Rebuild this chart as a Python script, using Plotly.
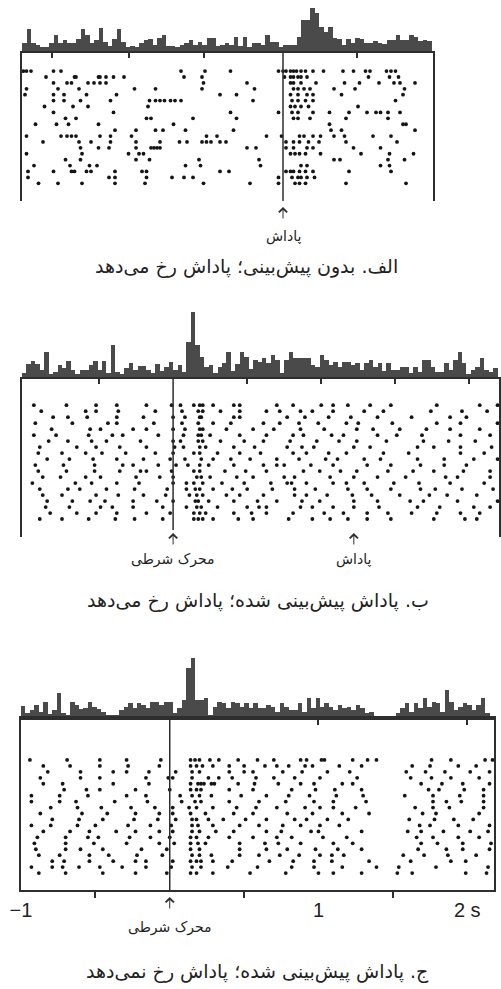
import plotly.graph_objects as go

W, H = 501, 989
FONT = "DejaVu Sans"
INK = "#2e2e2e"
BAR = "#4a4a4a"
DOT = "#151515"

# ------------------------------------------
# Data (times in s, histogram heights in spikes per bin)
# ------------------------------------------

BIN_WIDTH = 0.03

# A: no prediction, aligned on reward
A_RANGE = [-1.74, 1.0]
A_REWARD = 0.0
A_TOP_TICKS = [-1.54, -1.03, -0.53, 0.49]
A_HIST_START = -1.74
A_HIST = [
    8, 22, 8, 6, 4, 4, 8, 16, 8, 11,
    8, 8, 12, 22, 16, 8, 11, 23, 9, 5,
    12, 22, 9, 4, 5, 4, 8, 11, 12, 6,
    13, 16, 5, 5, 4, 6, 8, 11, 6, 9,
    6, 13, 13, 5, 6, 8, 6, 14, 5, 14,
    4, 8, 8, 6, 16, 9, 9, 4, 6, 6,
    6, 14, 31, 31, 43, 38, 24, 19, 24, 13,
    12, 6, 12, 8, 13, 12, 8, 8, 10, 8,
    7, 11, 11, 16, 11, 11, 16, 14, 10, 11,
    10,
]
A_TRIALS = [
    [-1.73, -1.71, -1.68, -1.53, -1.48, -0.68, -0.52, -0.35, -0.03, 0.00, 0.02, 0.05, 0.07, 0.09, 0.12, 0.15, 0.20, 0.27, 0.40, 0.47, 0.55, 0.58, 0.69, 0.72, 0.75],
    [-1.58, -1.39, -1.38, -1.23, -1.22, -1.18, -1.13, -1.06, -0.66, -0.54, 0.01, 0.05, 0.07, 0.10, 0.12, 0.16, 0.57, 0.71, 0.77],
    [-1.53, -1.44, -1.41, -1.30, -1.26, -1.22, -1.18, -0.53, -0.24, 0.05, 0.07, 0.12, 0.22, 0.41, 0.51, 0.64, 0.74, 0.78, 0.88],
    [-1.71, -1.50, -1.36, -0.99, -0.85, -0.54, -0.19, 0.07, 0.10, 0.14, 0.18, 0.34, 0.48, 0.81],
    [-1.72, -1.53, -1.46, -1.31, -1.11, -0.42, -0.31, 0.05, 0.10, 0.16, 0.20, 0.39, 0.80],
    [-1.53, -1.46, -1.35, -1.15, -0.89, -0.85, -0.82, -0.79, -0.75, -0.72, -0.68, -0.20, 0.06, 0.10, 0.15, 0.20, 0.75],
    [-1.59, -1.40, -1.30, -0.90, 0.05, 0.08, 0.12, 0.17, 0.50],
    [-1.53, -1.13, -0.35, -0.03, 0.06, 0.10, 0.20, 0.31, 0.44, 0.56, 0.62, 0.65, 0.70, 0.78],
    [-1.45, -1.38, -0.91, -0.88, -0.60, -0.31, 0.07, 0.10, 0.18, 0.42, 0.70],
    [-1.65, -1.51, -1.43, -1.23, -0.73, 0.31, 0.80, 0.82],
    [-1.12, -0.98, -0.85, -0.80, -0.65, -0.33, 0.32, 0.39, 0.88],
    [-1.71, -1.48, -1.44, -1.41, -1.38, -1.22, -1.15, -1.01, -0.51, -0.44, -0.11, -0.01, 0.11, 0.14, 0.20, 0.25, 0.34, 0.41, 0.60, 0.72],
    [-1.60, -1.36, -1.28, -1.15, -0.98, -0.82, -0.69, -0.64, -0.54, -0.51, -0.48, -0.42, -0.38, 0.02, 0.07, 0.11, 0.17, 0.24, 0.42, 0.76],
    [-1.35, -1.23, -1.16, -0.98, -0.88, -0.86, -0.84, -0.82, -0.24, -0.18, 0.02, 0.07, 0.16, 0.20, 0.47, 0.65],
    [-1.71, -1.34, -1.03, -0.96, -0.93, 0.05, 0.08, 0.11, 0.15, 0.25, 0.52, 0.71, 0.87],
    [-1.45, -1.35, -0.98, -0.89, -0.56, -0.16, 0.34, 0.38, 0.70, 0.81],
    [-1.66, -1.42, -1.29, -1.24, -0.65, -0.55, -0.15, 0.12, 0.16, 0.65, 0.71],
    [-1.70, -1.53, -1.41, -1.39, -1.31, -1.28, -1.12, -0.94, -0.91, -0.42, -0.36, 0.02, 0.05, 0.07, 0.11, 0.15, 0.20, 0.44, 0.72],
    [-1.70, -1.16, -1.12, -0.91, -0.74, -0.66, -0.60, -0.03, 0.06, 0.10, 0.12, 0.16, 0.21],
    [-1.63, -1.50, -1.34, -1.12, -0.92, -0.53, -0.22, -0.03, 0.08, 0.11, 0.15, 0.42, 0.82],
]

# B: reward predicted and delivered, aligned on conditioned stimulus
B_RANGE = [-1.02, 2.2]
B_CS = 0.0
B_REWARD = 1.22
B_TOP_TICKS = [-0.5, 0.5, 1.0, 1.5, 2.0]
B_HIST_START = -1.02
B_HIST = [
    4, 13, 16, 13, 7, 25, 3, 5, 12, 9,
    16, 7, 3, 7, 7, 12, 16, 7, 16, 4,
    32, 5, 3, 9, 14, 7, 11, 11, 7, 4,
    13, 6, 10, 15, 7, 12, 5, 35, 65, 32,
    20, 10, 12, 4, 10, 14, 25, 6, 13, 25,
    20, 8, 17, 15, 19, 14, 22, 17, 4, 17,
    25, 19, 19, 19, 19, 12, 10, 22, 17, 12,
    15, 10, 15, 15, 12, 14, 7, 14, 17, 10,
    14, 6, 14, 7, 7, 10, 10, 4, 10, 5,
    17, 17, 10, 5, 5, 14, 7, 17, 25, 14,
    3, 7, 10, 19, 7, 5, 9,
]
B_TRIALS = [
    [-0.94, -0.72, -0.52, -0.38, -0.18, -0.01, 0.05, 0.14, 0.18, 0.20, 0.27, 0.41, 0.45, 0.70, 0.81, 1.00, 1.08, 1.18, 1.33, 1.47, 1.78, 2.07, 2.19],
    [-0.89, -0.59, -0.52, -0.37, -0.12, 0.06, 0.17, 0.20, 0.32, 0.45, 0.63, 0.72, 0.86, 0.94, 1.08, 1.29, 1.42, 1.74, 1.95, 2.12],
    [-0.81, -0.71, -0.58, -0.38, -0.20, 0.00, 0.08, 0.18, 0.19, 0.41, 0.45, 0.77, 0.89, 1.05, 1.20, 1.38, 1.61, 1.87, 1.98],
    [-0.93, -0.68, -0.44, -0.38, -0.13, 0.06, 0.17, 0.27, 0.39, 0.61, 0.72, 0.85, 0.98, 1.17, 1.25, 1.48, 1.78, 1.94, 2.19],
    [-0.82, -0.56, -0.49, -0.27, -0.18, 0.00, 0.08, 0.18, 0.20, 0.36, 0.54, 0.68, 0.86, 1.02, 1.24, 1.35, 1.53, 1.71, 1.87, 2.07],
    [-0.94, -0.79, -0.57, -0.41, -0.34, -0.10, 0.07, 0.17, 0.19, 0.25, 0.45, 0.63, 0.81, 0.88, 1.07, 1.15, 1.38, 1.51, 1.68, 1.94, 2.14],
    [-0.84, -0.71, -0.55, -0.45, -0.22, 0.00, 0.05, 0.17, 0.20, 0.32, 0.48, 0.61, 0.79, 0.97, 1.12, 1.24, 1.44, 1.69, 1.86, 2.04],
    [-0.90, -0.65, -0.52, -0.36, -0.18, 0.01, 0.07, 0.18, 0.22, 0.41, 0.55, 0.77, 0.87, 0.95, 1.22, 1.33, 1.65, 1.76, 1.94, 2.15],
    [-0.91, -0.75, -0.59, -0.48, -0.32, -0.12, 0.00, 0.14, 0.18, 0.30, 0.45, 0.59, 0.81, 0.90, 1.05, 1.17, 1.42, 1.59, 1.94, 2.10],
    [-0.85, -0.70, -0.54, -0.38, -0.20, -0.02, 0.08, 0.19, 0.27, 0.39, 0.52, 0.70, 0.85, 1.03, 1.11, 1.29, 1.40, 1.65, 1.83, 2.03, 2.19],
    [-0.93, -0.74, -0.53, -0.34, -0.27, -0.10, 0.02, 0.10, 0.18, 0.24, 0.41, 0.61, 0.70, 0.75, 0.93, 1.08, 1.31, 1.47, 1.67, 1.83, 1.98],
    [-0.91, -0.72, -0.53, -0.36, -0.22, -0.18, -0.01, 0.14, 0.18, 0.35, 0.49, 0.63, 0.88, 0.99, 1.13, 1.24, 1.45, 1.62, 1.76, 1.96, 2.14],
    [-0.88, -0.76, -0.59, -0.49, -0.25, -0.09, 0.00, 0.16, 0.19, 0.25, 0.43, 0.54, 0.75, 0.82, 1.06, 1.22, 1.38, 1.57, 1.84, 1.92, 2.14],
    [-0.95, -0.66, -0.55, -0.38, -0.23, 0.00, 0.09, 0.14, 0.20, 0.33, 0.48, 0.66, 0.77, 0.80, 0.90, 1.08, 1.17, 1.29, 1.49, 1.66, 1.87, 2.10],
    [-0.90, -0.71, -0.63, -0.45, -0.26, -0.04, 0.09, 0.15, 0.18, 0.27, 0.40, 0.50, 0.67, 0.82, 0.96, 1.18, 1.31, 1.47, 1.67, 1.77, 1.95, 2.16],
    [-0.88, -0.75, -0.52, -0.37, -0.20, -0.05, 0.11, 0.16, 0.20, 0.36, 0.45, 0.61, 0.82, 0.90, 1.04, 1.21, 1.34, 1.53, 1.73, 1.85, 2.05],
    [-0.85, -0.68, -0.56, -0.46, -0.27, -0.11, 0.00, 0.15, 0.17, 0.24, 0.41, 0.57, 0.70, 0.87, 0.99, 1.22, 1.38, 1.60, 1.69, 1.92, 2.19],
    [-0.86, -0.70, -0.49, -0.41, -0.27, -0.07, 0.09, 0.16, 0.19, 0.30, 0.50, 0.58, 0.63, 0.86, 0.94, 1.08, 1.22, 1.39, 1.65, 1.80, 2.03, 2.14],
    [-0.83, -0.65, -0.52, -0.38, -0.18, -0.02, 0.14, 0.18, 0.22, 0.41, 0.53, 0.63, 0.81, 1.02, 1.15, 1.31, 1.45, 1.61, 1.78, 1.94, 2.07],
    [-0.90, -0.75, -0.57, -0.39, -0.26, -0.07, 0.14, 0.17, 0.20, 0.27, 0.44, 0.54, 0.78, 0.94, 1.06, 1.18, 1.31, 1.47, 1.76, 1.97, 2.05],
]

# C: reward predicted but omitted, aligned on conditioned stimulus
C_RANGE = [-1.0, 2.18]
C_CS = 0.0
C_TOP_TICKS = [1.0, 2.0]
C_BOTTOM_TICKS = [-0.5, 0.5, 1.5]
C_LABEL_VALS = [-1, 1, 2]
C_LABEL_TEXT = ["\u22121", "1", "2 s"]
C_HIST_START = -1.0
C_HIST = [
    12, 5, 8, 13, 6, 16, 4, 8, 25, 5,
    3, 16, 13, 9, 10, 16, 11, 9, 6, 3,
    3, 3, 8, 11, 15, 10, 15, 13, 10, 16,
    16, 13, 16, 16, 5, 10, 18, 50, 60, 18,
    18, 20, 3, 11, 16, 15, 10, 16, 15, 11,
    15, 10, 15, 10, 10, 13, 11, 6, 15, 11,
    8, 8, 15, 6, 20, 10, 20, 11, 15, 11,
    8, 13, 10, 11, 8, 13, 10, 5, 6, 0,
    0, 0, 0, 0, 5, 10, 15, 6, 15, 10,
    20, 11, 16, 15, 6, 28, 16, 8, 11, 15,
    13, 8, 13, 20, 5,
]
C_TRIALS = [
    [-0.94, -0.69, -0.47, -0.29, -0.06, 0.14, 0.17, 0.20, 0.27, 0.33, 0.46, 0.59, 0.70, 0.88, 0.92, 1.02, 1.04, 1.23, 1.33, 1.39, 1.76, 1.89, 2.12, 2.17],
    [-0.85, -0.67, -0.47, -0.28, -0.07, 0.14, 0.18, 0.22, 0.29, 0.40, 0.50, 0.64, 0.72, 0.80, 0.91, 0.96, 1.14, 1.29, 1.63, 1.75, 1.94, 2.06],
    [-0.82, -0.60, -0.38, -0.29, -0.14, 0.04, 0.15, 0.20, 0.40, 0.50, 0.56, 0.76, 0.89, 1.06, 1.21, 1.59, 1.72, 1.85, 2.02, 2.15],
    [-0.87, -0.60, -0.47, -0.16, -0.01, 0.02, 0.15, 0.26, 0.33, 0.42, 0.58, 0.70, 0.84, 1.01, 1.26, 1.62, 1.76, 1.89, 2.08],
    [-0.85, -0.72, -0.38, -0.14, 0.14, 0.19, 0.21, 0.23, 0.28, 0.30, 0.46, 0.57, 0.73, 0.88, 0.97, 1.16, 1.23, 1.69, 1.83, 1.97, 2.15],
    [-0.71, -0.56, -0.47, -0.23, 0.00, 0.14, 0.18, 0.21, 0.40, 0.56, 0.82, 0.98, 1.11, 1.29, 1.74, 1.81, 1.98, 2.11],
    [-0.93, -0.74, -0.55, -0.29, -0.16, 0.07, 0.15, 0.20, 0.28, 0.48, 0.65, 0.80, 0.94, 1.12, 1.30, 1.58, 1.77, 1.95, 2.11],
    [-0.93, -0.74, -0.63, -0.37, -0.15, 0.08, 0.17, 0.21, 0.40, 0.60, 0.78, 0.97, 1.10, 1.32, 1.77, 1.86, 1.96, 2.11],
    [-0.80, -0.62, -0.46, -0.26, -0.10, 0.02, 0.13, 0.18, 0.29, 0.45, 0.58, 0.72, 0.91, 1.01, 1.10, 1.25, 1.65, 1.77, 1.88, 2.11],
    [-0.87, -0.59, -0.42, -0.23, -0.07, 0.02, 0.14, 0.24, 0.43, 0.56, 0.79, 0.96, 1.16, 1.34, 1.70, 1.79, 2.08],
    [-0.79, -0.61, -0.45, -0.24, -0.08, 0.04, 0.15, 0.18, 0.26, 0.36, 0.51, 0.65, 0.84, 0.92, 1.06, 1.20, 1.61, 1.78, 1.91, 2.04],
    [-0.93, -0.80, -0.62, -0.50, -0.28, -0.13, 0.01, 0.15, 0.19, 0.29, 0.47, 0.60, 0.76, 0.88, 1.01, 1.14, 1.68, 1.75, 1.94, 2.15],
    [-0.85, -0.67, -0.54, -0.36, -0.23, -0.07, 0.02, 0.15, 0.20, 0.31, 0.43, 0.65, 0.75, 0.95, 1.00, 1.29, 1.60, 1.69, 1.84, 2.02, 2.14],
    [-0.89, -0.70, -0.55, -0.48, -0.27, -0.13, 0.00, 0.14, 0.18, 0.26, 0.40, 0.56, 0.72, 0.82, 1.03, 1.19, 1.66, 1.77, 1.94, 2.08],
    [-0.91, -0.70, -0.51, -0.29, -0.07, 0.03, 0.14, 0.19, 0.24, 0.47, 0.64, 0.73, 0.88, 1.10, 1.23, 1.69, 1.80, 1.97, 2.16],
    [-0.90, -0.70, -0.60, -0.45, -0.19, -0.02, 0.14, 0.20, 0.47, 0.65, 0.79, 0.98, 1.13, 1.29, 1.67, 1.86, 1.97, 2.15],
    [-0.88, -0.74, -0.54, -0.41, -0.22, -0.05, 0.15, 0.20, 0.28, 0.47, 0.60, 0.74, 0.87, 1.01, 1.09, 1.17, 1.57, 1.71, 1.87, 2.06],
    [-0.79, -0.71, -0.54, -0.38, -0.23, -0.16, 0.02, 0.14, 0.18, 0.21, 0.29, 0.42, 0.67, 0.83, 0.97, 1.09, 1.34, 1.62, 1.89, 1.99],
    [-0.93, -0.79, -0.72, -0.61, -0.47, -0.32, -0.16, 0.01, 0.15, 0.21, 0.39, 0.59, 0.82, 0.97, 1.16, 1.39, 1.54, 1.79, 2.14],
    [-0.88, -0.70, -0.45, -0.23, -0.02, 0.14, 0.18, 0.29, 0.54, 0.78, 1.00, 1.10, 1.29, 1.53, 1.63, 1.99, 2.13],
]

CAPTION_A = "الف. بدون پیش\u200cبینی؛ پاداش رخ می\u200cدهد"
CAPTION_B = "ب. پاداش پیش\u200cبینی شده؛ پاداش رخ می\u200cدهد"
CAPTION_C = "ج. پاداش پیش\u200cبینی شده؛ پاداش رخ نمی\u200cدهد"
REWARD_LABEL = "پاداش"
CS_LABEL = "محرک شرطی"


# ------------------------------------------
# Helpers
# ------------------------------------------

def py(p):
    # pixel row on the page -> paper y
    return 1 - p / H


def sfx(k):
    return "" if k == 1 else str(k)


fig = go.Figure()


def add_panel(k, x_range, x_px, hist_px, raster_px, row_range,
              hist_start, hist, trials, top_ticks, closed=False):
    h, r = 2 * k - 1, 2 * k
    x_dom = [x_px[0] / W, x_px[1] / W]

    centers = [hist_start + BIN_WIDTH * (i + 0.5) for i in range(len(hist))]
    fig.add_trace(go.Bar(
        x=centers, y=hist, width=BIN_WIDTH,
        marker=dict(color=BAR, line=dict(width=0)),
        xaxis="x" + sfx(h), yaxis="y" + sfx(h),
        showlegend=False, hoverinfo="skip"
    ))

    xs, ys = [], []
    for row, spikes in enumerate(trials, start=1):
        xs += spikes
        ys += [row] * len(spikes)
    fig.add_trace(go.Scatter(
        x=xs, y=ys, mode="markers",
        marker=dict(size=3.8, color=DOT, line=dict(width=0)),
        xaxis="x" + sfx(r), yaxis="y" + sfx(r),
        showlegend=False, hoverinfo="skip"
    ))

    fig.layout["xaxis" + sfx(h)] = dict(
        domain=x_dom, range=x_range, anchor="y" + sfx(h),
        showline=True, linecolor=INK, linewidth=1.5,
        ticks="outside", tickvals=top_ticks, ticklen=5,
        tickcolor=INK, tickwidth=1.5, showticklabels=False,
        showgrid=False, zeroline=False
    )
    fig.layout["yaxis" + sfx(h)] = dict(
        domain=[py(hist_px[0]), py(hist_px[1])],
        range=[0, hist_px[0] - hist_px[1]],
        anchor="x" + sfx(h), visible=False
    )
    fig.layout["xaxis" + sfx(r)] = dict(
        domain=x_dom, range=x_range, anchor="y" + sfx(r),
        showline=closed, mirror=closed, linecolor=INK, linewidth=1.5,
        ticks="outside" if closed else "",
        tickvals=C_BOTTOM_TICKS if closed else [],
        ticklen=6, tickcolor=INK, tickwidth=1.5,
        showticklabels=False, showgrid=False, zeroline=False
    )
    fig.layout["yaxis" + sfx(r)] = dict(
        domain=[py(raster_px[1]), py(raster_px[0])],
        range=row_range, anchor="x" + sfx(r),
        showline=True, mirror=True, linecolor=INK, linewidth=1.5,
        ticks="", showticklabels=False, showgrid=False, zeroline=False
    )


# ------------------------------------------
# Panels
# ------------------------------------------

add_panel(1, A_RANGE, (22, 433), (51, 6), (51, 201), [23.0, -2.4],
          A_HIST_START, A_HIST, A_TRIALS, A_TOP_TICKS)
add_panel(2, B_RANGE, (22, 499), (377, 305), (377, 537), [23.0, -3.7],
          B_HIST_START, B_HIST, B_TRIALS, B_TOP_TICKS)
add_panel(3, C_RANGE, (21, 494), (718, 650), (718, 890), [22.85, -6.05],
          C_HIST_START, C_HIST, C_TRIALS, C_TOP_TICKS, closed=True)

# tick labels under panel C
fig.add_trace(go.Scatter(x=[], y=[], xaxis="x7", yaxis="y6", showlegend=False))
fig.layout["xaxis7"] = dict(
    domain=[21 / W, 494 / W], range=C_RANGE, anchor="y6", overlaying="x6",
    tickvals=C_LABEL_VALS, ticktext=C_LABEL_TEXT,
    ticks="outside", ticklen=2, tickcolor="rgba(0,0,0,0)",
    tickfont=dict(family="Liberation Sans", size=20, color="#222"),
    showline=False, showgrid=False, zeroline=False, automargin=False
)

# event lines: reward in A, conditioned stimulus in B and C
fig.add_shape(type="line", xref="x2", yref="y2 domain",
              x0=A_REWARD, x1=A_REWARD, y0=0, y1=1,
              line=dict(color=INK, width=1.5))
fig.add_shape(type="line", xref="x4", yref="y4 domain",
              x0=B_CS, x1=B_CS, y0=0.044, y1=1,
              line=dict(color=INK, width=1.5))
fig.add_shape(type="line", xref="x6", yref="y6 domain",
              x0=C_CS, x1=C_CS, y0=0, y1=1,
              line=dict(color=INK, width=1.5))


def arrow(x, xref, tip):
    fig.add_annotation(x=x, xref=xref, y=py(tip), yref="paper",
                       ax=0, ay=13, text="", showarrow=True,
                       arrowhead=4, arrowsize=1.6, arrowwidth=1,
                       arrowcolor=INK)


def label(x, xref, y, text, size):
    fig.add_annotation(x=x, xref=xref, y=py(y), yref="paper",
                       text=text, showarrow=False, yanchor="middle",
                       font=dict(family=FONT, size=size, color="#222"))


arrow(A_REWARD, "x2", 207)
label(A_REWARD, "x2", 237, REWARD_LABEL, 14)
label(246 / W, "paper", 267, CAPTION_A, 19)

arrow(B_CS, "x4", 533)
arrow(B_REWARD, "x4", 533)
label(B_CS, "x4", 559, CS_LABEL, 14)
label(B_REWARD, "x4", 559, REWARD_LABEL, 14)
label(258 / W, "paper", 600, CAPTION_B, 19)

arrow(C_CS, "x6", 897)
label(C_CS, "x6", 927, CS_LABEL, 14)
label(257 / W, "paper", 971, CAPTION_C, 19)

fig.update_layout(
    width=W, height=H, autosize=False,
    margin=dict(l=0, r=0, t=0, b=0, pad=0, autoexpand=False),
    paper_bgcolor="white", plot_bgcolor="rgba(0,0,0,0)",
    bargap=0, showlegend=False
)

fig.write_html(
    "out.html",
    config={"displayModeBar": False},
    post_script="document.body.style.margin='0';"
                "document.body.style.overflow='hidden';"
)
